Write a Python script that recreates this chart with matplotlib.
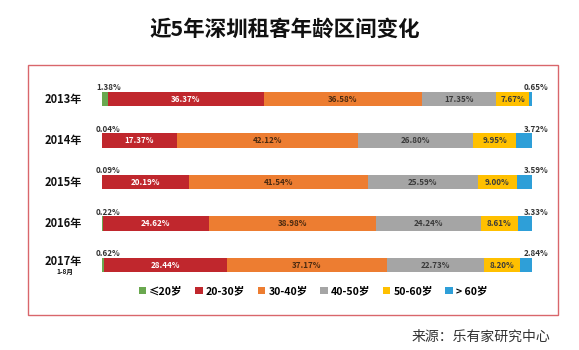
import matplotlib.pyplot as plt
from matplotlib.patches import Rectangle, Patch

plt.rcParams['font.family'] = ['Noto Sans CJK SC', 'DejaVu Sans']

# 数据
years = ['2013年', '2014年', '2015年', '2016年', '2017年']
groups = ['≤20岁', '20-30岁', '30-40岁', '40-50岁', '50-60岁', '> 60岁']
le20 = [1.38, 0.04, 0.09, 0.22, 0.62]
a20_30 = [36.37, 17.37, 20.19, 24.62, 28.44]
a30_40 = [36.58, 42.12, 41.54, 38.98, 37.17]
a40_50 = [17.35, 26.80, 25.59, 24.24, 22.73]
a50_60 = [7.67, 9.95, 9.00, 8.61, 8.20]
gt60 = [0.65, 3.72, 3.59, 3.33, 2.84]
series = [le20, a20_30, a30_40, a40_50, a50_60, gt60]
colors = ['#6aa84f', '#c0272d', '#ed7d31', '#a5a5a5', '#ffc000', '#2e9fd8']
txt_colors = [None, 'white', '#4a2a10', '#3a3a3a', '#3a3a3a', None]

W, H = 579, 350
fig = plt.figure(figsize=(W / 100, H / 100), dpi=100)
fig.patch.set_facecolor('white')

# 坐标轴: x 为百分比, y 为行号
x0, x1 = 101.7, 532
ax = fig.add_axes([x0 / W, 0, (x1 - x0) / W, 1])
row0, step = 99, 41.5
ax.set_xlim(0, 100)
ax.set_ylim((H - row0) / step, -row0 / step)
ax.axis('off')

bh = 0.34
ypos = list(range(len(years)))
left = [0.0] * len(years)
for k, vals in enumerate(series):
    ax.barh(ypos, vals, left=left, height=bh, color=colors[k], zorder=2)
    for i, v in enumerate(vals):
        if txt_colors[k] is not None:
            ax.text(left[i] + v / 2, i, f'{v:.2f}%', ha='center', va='center',
                    fontsize=5.8, fontweight='bold', color=txt_colors[k], zorder=3)
    left = [l + v for l, v in zip(left, vals)]

# 两端的小标签
for i in ypos:
    ax.text(-1.3, i - 0.27, f'{le20[i]:.2f}%', ha='left', va='center',
            fontsize=5.8, fontweight='bold', color='#333333')
    ax.text(103.8, i - 0.27, f'{gt60[i]:.2f}%', ha='right', va='center',
            fontsize=5.8, fontweight='bold', color='#333333')

# 年份标签
for i, y in enumerate(years):
    yy = i if i < 4 else i - 0.08
    ax.text(-4.6, yy, y, ha='right', va='center', fontsize=8,
            fontweight='bold', color='#111111')
ax.text(-8.6, 4 + 0.15, '1-8月', ha='center', va='center', fontsize=4.8,
        fontweight='bold', color='#111111')

# 图例
handles = [Patch(facecolor=c, edgecolor='none') for c in colors]
fig.legend(handles, groups, loc='center', bbox_to_anchor=(313 / W, 1 - 291 / H),
           ncol=6, frameon=False, handlelength=0.7, handleheight=0.7,
           handletextpad=0.3, columnspacing=1.2,
           prop={'weight': 'bold', 'size': 7.6})

# 外框
fig.add_artist(Rectangle((28 / W, 1 - 315 / H), (558 - 28) / W, (315 - 65) / H,
                         transform=fig.transFigure, fill=False,
                         edgecolor='#d9666b', lw=1.0))

# 标题与来源
fig.text(285 / W, 1 - 29 / H, '近5年深圳租客年龄区间变化', ha='center', va='center',
         fontsize=15.5, fontweight='bold', color='#111111')
fig.text(550 / W, 1 - 337 / H, '来源：乐有家研究中心', ha='right', va='center',
         fontsize=10, color='#333333')

fig.savefig('out.png', dpi=100)
